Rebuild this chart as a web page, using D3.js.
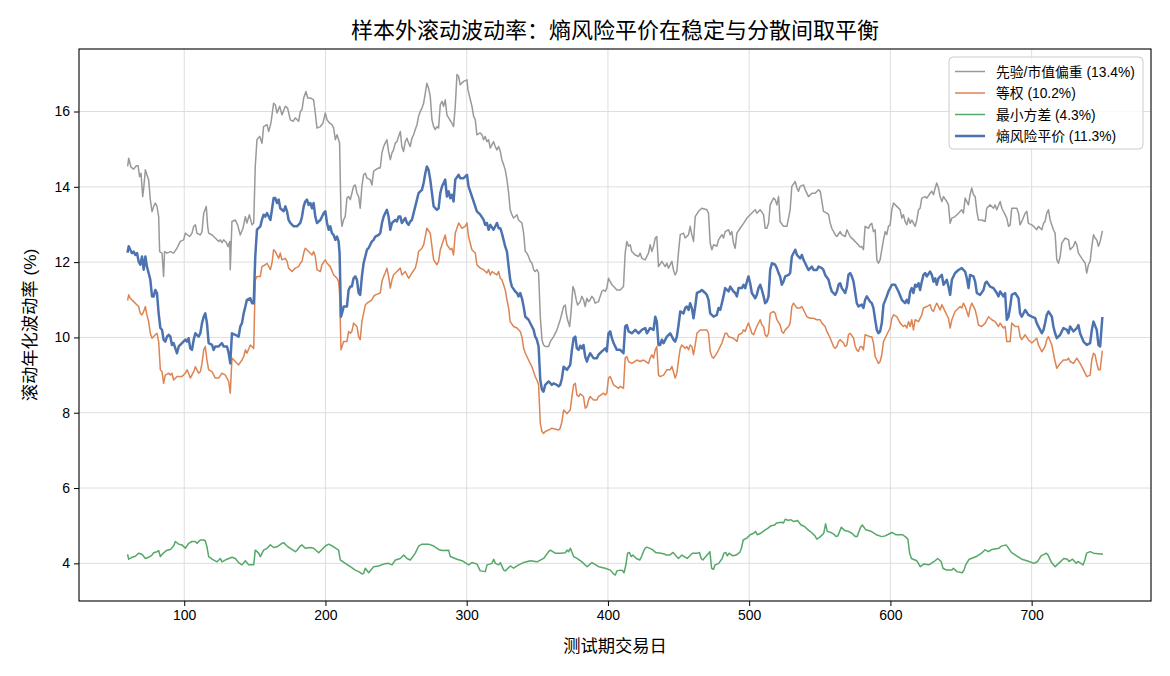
<!DOCTYPE html>
<html>
<head>
<meta charset="utf-8">
<script src="https://cdn.jsdelivr.net/npm/d3@7"></script>
<style>
  body { margin: 0; background: #fff; }
  text { font-family: "Liberation Sans", Arial, "Noto Sans CJK SC", sans-serif; fill: #000; }
</style>
</head>
<body>
<div class="chart"></div>
<script>
var totalWidth = 1170;
var totalHeight = 676;

var margin = {
  top: 49,
  left: 79,
  bottom: 75,
  right: 19
};

var width = totalWidth - margin.left - margin.right;
var height = totalHeight - margin.top - margin.bottom;

// DATA STUFF

var titleText = "样本外滚动波动率：熵风险平价在稳定与分散间取平衡";
var xLabel = "测试期交易日";
var yLabel = "滚动年化波动率 (%)";

var xTicks = [100, 200, 300, 400, 500, 600, 700];
var yTicks = [4, 6, 8, 10, 12, 14, 16];

var seriesNames = ["先验/市值偏重 (13.4%)", "等权 (10.2%)", "最小方差 (4.3%)", "熵风险平价 (11.3%)"];

// [trading day, rolling vol %]
var prior = [[60,14.56],[60.7,14.76],[62.3,14.52],[64.2,14.47],[66.1,14.56],[67.3,14.56],[68.4,14.27],[69.4,14.36],[70.6,13.74],[71.3,13.96],[72.5,14.45],[73.6,14.32],[74.8,14.19],[76,13.66],[77.2,13.34],[78.4,13.48],[79.5,13.57],[80.7,13.48],[81.9,13.21],[82.6,12.28],[84.3,12.24],[85.4,11.62],[86.1,12.28],[87.8,12.24],[90.2,12.28],[92.5,12.24],[94.9,12.37],[97.2,12.55],[99.6,12.59],[100.8,12.77],[102.4,12.72],[103.8,12.68],[105.5,12.77],[106.7,12.95],[107.9,12.99],[109,12.77],[111.4,12.72],[112.6,12.81],[113.8,13.3],[115.6,13.48],[116.6,12.95],[117.3,12.77],[119.7,12.72],[122,12.64],[124.4,12.55],[125.6,12.59],[126.7,12.52],[127.9,12.59],[129.8,12.52],[131,12.41],[132.2,12.55],[132.6,11.8],[133.8,13.08],[136.2,13.12],[137.8,12.99],[139.7,12.72],[141.6,12.9],[143.3,13.21],[144.4,13.04],[146.1,13.26],[148,12.99],[149.2,13.04],[150.3,14.54],[151.5,15.25],[153.4,15.34],[155.1,15.16],[156.2,15.6],[158.6,15.65],[159.8,15.47],[161.4,15.69],[163.3,16.22],[164.5,16.18],[165.7,15.96],[167.6,16.14],[169.2,15.91],[171.6,16.14],[173.2,16.09],[175.1,15.78],[177,15.74],[178.7,15.83],[181,15.74],[182.2,16],[183.4,16.05],[184.6,16.36],[186.2,16.53],[187.4,16.36],[189.3,16.36],[191.6,16.31],[192.8,15.96],[194,15.56],[196.4,15.6],[198.2,15.69],[199.9,15.96],[201.1,15.78],[203,15.69],[204.6,15.65],[205.8,15.56],[207,15.25],[208.2,15.38],[209.3,15.25],[210,15.16],[211,13.21],[211.7,12.95],[212.8,13.12],[214,13.21],[215.2,13.7],[216.4,13.74],[217.6,13.66],[218.7,13.83],[219.9,14.01],[221.1,14.05],[222.3,13.83],[223.5,13.74],[224.6,13.43],[225.8,14.01],[227,14.32],[228.2,14.36],[229.4,14.23],[231.7,14.19],[232.9,14.05],[234.1,14.41],[235.3,14.45],[237.6,14.5],[238.8,14.5],[240,14.9],[241.2,15.07],[242.3,15.16],[243.5,15.25],[244.7,14.94],[245.9,14.72],[247.1,14.9],[248.2,14.98],[249.4,15.16],[250.6,15.2],[251.8,15.34],[253,15.47],[254.1,15.07],[255.3,14.94],[256.5,15.2],[257.7,15.29],[258.9,15.16],[260,15.07],[261.2,15.29],[262.4,15.38],[263.6,15.52],[264.8,15.65],[265.9,15.87],[267.1,16],[268.3,16.09],[269.5,16.22],[270.7,16.49],[271.8,16.75],[273,16.62],[274.2,16.4],[275.4,15.78],[276.6,15.6],[277.7,15.52],[278.9,15.6],[280.1,15.56],[281.3,16.18],[282.5,16.27],[283.6,16.14],[284.8,16.31],[286,15.91],[287.2,15.83],[289.5,15.69],[290.7,15.6],[291.9,16.14],[293.1,16.98],[294.3,16.93],[295.4,16.71],[297.8,16.8],[300.2,16.84],[300.9,16.58],[302,16.4],[303.7,16.14],[304.9,15.87],[306.1,15.78],[307.2,15.38],[309.6,15.43],[310.8,15.38],[312,15.25],[313.1,15.34],[314.3,15.2],[315.5,15.25],[316.7,15.03],[317.9,15.12],[319,15.2],[320.2,15.07],[321.4,14.98],[322.6,15.07],[323.8,14.94],[324.9,14.72],[326.1,14.59],[327.3,14.45],[328.5,14.19],[329.7,13.83],[330.8,13.39],[332,13.26],[333.2,13.17],[334.4,13.21],[335.6,13.26],[336.7,13.12],[337.9,13.08],[339.1,13.04],[340.3,12.77],[341.5,12.28],[342.6,12.24],[343.8,12.15],[345,12.02],[346.2,11.97],[347.4,11.8],[348.5,11.75],[349.7,11.8],[350.9,11.71],[352.1,10.56],[353.3,9.94],[354.4,9.8],[355.6,9.76],[358,9.76],[359.2,9.89],[361.5,10.02],[363.9,10.2],[366.2,10.47],[367.4,10.64],[368.6,10.82],[369.8,10.86],[370.5,10.64],[371.4,10.47],[372.9,10.29],[373.8,10.64],[375.2,11.35],[376.2,11.26],[377.6,10.99],[378.5,10.86],[380.4,10.95],[381.5,11.09],[382.7,11],[383.9,10.82],[385.1,11.04],[386.3,10.95],[387.4,11],[388.6,11.09],[389.8,11.04],[391,10.91],[393.3,10.95],[394.5,11.09],[395.7,11.22],[396.9,11.26],[398.1,11.22],[399.2,11.31],[400.4,11.57],[401.6,11.48],[402.8,11.4],[405.1,11.31],[406.3,11.26],[408.7,11.26],[411,11.35],[412.2,12.24],[413.4,12.55],[414.6,12.42],[415.8,12.46],[416.9,12.28],[419.3,12.19],[421.7,12.15],[422.8,12.24],[424,12.1],[426.4,12.06],[428.7,12.24],[429.9,12.46],[431.1,12.28],[432.3,12.42],[433.5,12.64],[434.6,12.68],[435.8,11.88],[438.2,12.02],[440.5,11.88],[441.7,11.97],[442.9,11.84],[445.3,12.02],[446.4,11.79],[447.6,11.66],[448.8,11.75],[450,12.28],[451.2,12.73],[453.5,12.77],[454.7,12.64],[457.1,12.73],[458.2,12.95],[459.4,12.73],[460.6,12.55],[461.8,13.21],[464.1,13.35],[466.5,13.43],[470,13.39],[471.2,13.3],[472.4,12.5],[473.6,12.33],[474.8,12.46],[477.1,12.42],[478.3,12.59],[480.7,12.73],[481.8,12.64],[483,12.81],[485.4,12.86],[486.6,12.73],[487.7,12.81],[488.9,12.5],[490.1,12.37],[491.3,12.77],[493.6,12.9],[496,13.03],[498.4,13.17],[500.7,13.26],[503.1,13.35],[504.3,13.39],[505.4,13.3],[507.8,13.39],[510.2,13.26],[511.3,12.9],[512.5,12.9],[513.7,13.03],[514.9,13.52],[517.2,13.7],[518.4,13.66],[519.6,13.52],[520.8,13.74],[521.9,13.08],[524.3,12.95],[526.7,12.95],[527.9,13.17],[529,13.39],[530.2,14.01],[532.6,14.14],[533.8,13.97],[534.9,13.88],[536.1,14.01],[538.5,14.05],[539.7,13.92],[542,13.74],[544.4,13.83],[546.7,13.83],[549.1,13.92],[550.3,13.88],[551.5,13.61],[552.6,13.35],[555,13.3],[556.2,13.26],[557.4,13.03],[558.5,12.9],[560.9,12.73],[562.1,12.68],[564.4,12.81],[565.6,12.73],[568,12.68],[569.2,12.86],[571.5,12.68],[573.9,12.59],[576.2,12.5],[578.6,12.4],[579.7,12.42],[580.9,12.33],[582.1,12.95],[584.5,12.9],[585.6,12.99],[586.8,13.03],[588,12.81],[589.2,12.86],[590.4,12.06],[591.5,11.97],[592.7,12.06],[593.9,12.33],[595.1,12.59],[596.3,12.81],[597.4,12.73],[598.6,12.95],[599.8,12.99],[601,13.39],[602.2,13.57],[604.5,13.48],[606.9,13.39],[608.1,13.17],[609.2,13.26],[610.4,13.08],[611.6,12.99],[612.8,13.17],[614,13.03],[615.1,13.12],[617.5,12.95],[618.7,13.12],[619.9,13.39],[621,13.43],[622.2,13.7],[624.6,13.74],[625.8,13.7],[628.1,13.83],[629.3,13.88],[630.5,13.79],[631.7,13.97],[632.8,14.1],[634,13.97],[635.2,13.74],[636.4,13.61],[637.6,13.74],[639.9,13.61],[641.1,13.52],[642.3,13.03],[643.5,13.17],[645.8,13.21],[648.2,13.3],[650.5,13.39],[651.7,13.3],[652.9,13.7],[655.3,13.52],[656.4,13.79],[657.6,13.97],[658.8,13.79],[660,13.74],[661.2,13.35],[662.3,13.12],[664.7,13.12],[667.1,13.08],[668.2,13.43],[670.6,13.52],[673,13.43],[674.1,13.52],[675.3,13.39],[677.7,13.61],[678.9,13.43],[681.2,13.26],[682.4,13.17],[683.6,12.95],[684.8,12.99],[685.9,13.43],[689.5,13.43],[690.7,13.3],[691.8,12.99],[693,13.08],[695.4,13.3],[696.6,13.35],[697.7,13.03],[700.1,12.99],[701.3,12.95],[703.6,12.86],[704.8,12.95],[707.2,12.86],[708.4,13.03],[709.5,13.08],[710.7,13.3],[711.9,13.39],[713.1,13.12],[715.4,12.86],[716.6,12.77],[717.8,12.06],[719,11.97],[720.2,12.15],[721.3,12.5],[723.7,12.64],[726.1,12.59],[727.2,12.33],[729.6,12.42],[730.8,12.55],[732,12.46],[733.1,12.24],[735.5,12.1],[737.9,11.97],[739,11.71],[740.2,11.93],[741.4,12.02],[742.6,12.42],[743.8,12.73],[744.9,12.64],[746.1,12.59],[747.3,12.42],[748.5,12.55],[750,12.81]];

var equal = [[60,11],[60.7,11.13],[61.8,11.04],[64.2,10.95],[66.6,10.86],[67.7,10.82],[68.9,10.64],[70.1,10.6],[71.3,10.69],[72.5,10.82],[73.6,10.6],[74.8,10.42],[76,10.11],[77.2,9.98],[79.5,10.07],[80.7,10.11],[81.9,9.89],[83.1,9.14],[84.3,9.09],[85.4,8.78],[86.6,9],[89,9.05],[90.2,9],[91.3,9.05],[92.5,8.87],[94.9,8.96],[98.4,8.96],[100.8,9.05],[102,9.14],[103.1,9.05],[104.3,8.92],[106.7,9.09],[107.9,9.22],[110.2,9.05],[111.4,9.09],[112.6,9.31],[113.8,9.67],[114.9,9.76],[116.1,9.4],[117.3,9.14],[119.7,9.09],[122,8.92],[124.4,8.92],[126.7,9.05],[129.1,9],[131.5,8.83],[132.6,8.52],[133.8,9.45],[136.2,9.36],[138.5,9.27],[140.9,9.4],[142.1,9.49],[143.3,9.67],[144.4,9.58],[146.8,9.8],[149.2,9.71],[150.3,11.53],[151.5,11.62],[153.9,11.62],[155,11.88],[157.4,11.93],[158.6,11.97],[161,11.8],[162.1,11.97],[163.3,12.33],[164.5,12.28],[166.9,12.1],[168,12.24],[169.2,12.06],[171.6,12.1],[172.8,12.02],[173.9,11.84],[176.3,11.75],[178.6,11.84],[181,11.88],[182.2,11.97],[183.4,12.02],[184.6,12.24],[185.7,12.37],[188.1,12.28],[190.5,12.19],[191.6,12.28],[192.8,12.15],[194,11.8],[196.4,11.75],[197.5,11.93],[199.9,12.06],[201.1,11.97],[203.4,11.88],[205.8,11.66],[208.2,11.57],[209.3,11.49],[210,11.18],[211,9.67],[211.7,9.76],[212.9,9.89],[215.2,9.89],[216.4,10.16],[217.6,10.11],[218.7,10.16],[219.9,10.38],[222.3,10.29],[223.5,10.02],[224.6,9.94],[225.8,10.42],[227,10.64],[228.2,10.86],[229.4,10.91],[232.9,11],[234.1,11.09],[235.3,11.13],[238.8,11.18],[240,11.49],[241.2,11.62],[242.3,11.71],[243.5,11.84],[244.7,11.62],[245.9,11.31],[247.1,11.53],[248.2,11.66],[250.6,11.75],[253,11.84],[254.1,11.66],[256.5,11.75],[258.9,11.57],[261.2,11.71],[263.6,11.84],[264.8,12.02],[265.9,12.28],[268.3,12.37],[269.5,12.46],[270.7,12.68],[271.8,12.9],[274.2,12.77],[275.4,12.41],[276.6,12.06],[278.9,11.93],[280.1,12.02],[281.3,12.33],[283.6,12.59],[284.8,12.72],[286,12.46],[288.4,12.33],[289.5,12.37],[290.7,12.19],[291.9,12.77],[294.3,13.04],[296.6,12.9],[299,12.95],[300.2,13.04],[301.3,12.68],[303.7,12.33],[306.1,12.24],[307.2,11.93],[309.6,11.84],[312,11.8],[314.3,11.71],[315.5,11.8],[316.7,11.66],[317.9,11.75],[321.4,11.66],[322.6,11.75],[323.8,11.57],[324.9,11.53],[326.1,11.4],[327.3,11.26],[328.5,11],[329.7,10.78],[330.8,10.42],[333.2,10.29],[335.6,10.25],[337.9,10.16],[339.1,10.02],[340.3,9.71],[341.5,9.58],[343.8,9.4],[346.2,9.22],[347.4,9.09],[348.5,8.96],[349.7,8.87],[350.9,8.74],[352.1,7.72],[353.3,7.5],[354.4,7.45],[355.6,7.5],[358,7.54],[360.3,7.59],[365.1,7.54],[366.2,7.59],[367.4,7.76],[368.6,8.07],[371,7.98],[373.3,8.07],[374.5,8.43],[375.7,8.74],[376.9,8.78],[378,8.47],[379.2,8.43],[380.4,8.5],[382.7,8.43],[383.9,8.12],[385.1,8.16],[386.3,8.34],[387.4,8.43],[389.8,8.34],[392.2,8.34],[393.3,8.43],[396.9,8.52],[398.1,8.47],[399.2,8.52],[400.4,8.92],[401.6,8.96],[404,8.74],[407.5,8.65],[408.7,8.7],[411,8.65],[412.2,9.45],[413.4,9.49],[414.6,9.36],[416.9,9.31],[420.5,9.4],[422.8,9.36],[425.2,9.4],[428.7,9.31],[429.9,9.45],[431.1,9.54],[432.3,9.45],[433.5,9.67],[434.6,9.76],[435.8,9],[437,8.96],[439.4,9],[441.7,9.14],[444.1,9.14],[445.3,9.23],[446.4,9.09],[447.6,8.92],[448.8,9.05],[450,9.4],[451.2,9.71],[452.3,9.8],[454.7,9.71],[455.9,9.76],[457.1,9.67],[458.2,9.8],[459.4,9.76],[460.6,9.54],[461.8,9.8],[463,10.11],[465.3,10.2],[467.7,10.2],[470,10.2],[471.2,10.11],[472.4,9.63],[473.6,9.49],[474.8,9.45],[477.1,9.58],[479.5,9.76],[480.7,9.85],[481.8,9.98],[483,10.11],[484.2,10.11],[485.4,10.02],[488.9,9.98],[491.3,9.89],[492.5,10.07],[494.8,10.11],[496,10.2],[497.2,10.16],[498.4,10.29],[499.5,10.38],[500.7,10.25],[501.9,10.11],[503.1,10.07],[505.4,10.29],[507.8,10.47],[509,10.33],[510.2,10.29],[511.3,10.07],[512.5,10.02],[513.7,10.11],[514.9,10.64],[517.2,10.69],[518.4,10.64],[519.6,10.47],[521.9,10.33],[523.1,10.16],[524.3,10.11],[525.5,10.2],[527.9,10.29],[529,10.38],[530.2,10.82],[531.4,10.91],[533.8,10.78],[536.1,10.78],[537.3,10.82],[538.5,10.73],[540.8,10.55],[543.2,10.51],[545.6,10.51],[547.9,10.47],[550.3,10.47],[551.5,10.38],[553.8,10.29],[555,10.16],[557.4,9.98],[559.7,9.76],[560.9,9.71],[562.1,9.76],[563.3,9.89],[564.4,9.94],[566.8,9.85],[568,9.76],[569.2,9.8],[570.3,10.07],[571.5,10.11],[573.9,9.98],[575.1,9.76],[576.2,9.67],[577.4,9.63],[578.6,9.75],[579.7,9.76],[580.9,9.67],[582.1,10.07],[585.6,10.02],[586.8,10.02],[588,9.85],[589.2,9.49],[590.4,9.4],[591.5,9.31],[592.7,9.36],[593.9,9.54],[595.1,9.89],[597.4,10.07],[599.8,10.25],[601,10.51],[602.2,10.6],[604.5,10.55],[606.9,10.38],[609.2,10.29],[610.4,10.33],[611.6,10.25],[612.8,10.42],[614,10.29],[615.1,10.47],[616.3,10.2],[617.5,10.47],[619.9,10.42],[622.2,10.6],[623.4,10.78],[625.8,10.82],[628.1,10.87],[629.3,10.73],[630.5,10.69],[631.7,10.82],[632.8,10.91],[635.2,10.73],[636.4,10.87],[638.7,10.69],[641.1,10.51],[642.3,10.25],[643.5,10.47],[645.8,10.69],[649.4,10.82],[650.5,10.78],[651.7,10.91],[652.9,10.82],[654.1,10.69],[655.3,10.55],[656.4,10.78],[657.6,10.91],[660,10.73],[661.2,10.55],[662.3,10.33],[664.7,10.29],[667.1,10.38],[669.4,10.55],[671.8,10.47],[674.1,10.42],[676.5,10.29],[677.7,10.38],[680,10.25],[681.2,10.29],[682.4,9.89],[684.8,9.89],[685.9,10.38],[688.3,10.29],[690.7,10.29],[691.8,10.02],[693,9.94],[695.4,10.07],[697.7,9.94],[700.1,9.85],[703.6,9.98],[704.8,9.8],[707.2,9.62],[709.5,9.76],[710.7,9.94],[711.9,10.02],[714.3,9.8],[715.4,9.58],[716.6,9.36],[717.8,9.18],[720.2,9.31],[722.5,9.4],[724.9,9.4],[726.1,9.45],[727.2,9.36],[729.6,9.31],[732,9.45],[734.3,9.31],[736.7,9.14],[739,8.96],[741.4,9],[742.6,9.4],[743.8,9.58],[744.9,9.54],[746.1,9.31],[747.3,9.14],[748.5,9.14],[750,9.63]];

var minVar = [[60,4.22],[60.7,4.11],[63,4.16],[65.4,4.19],[67.7,4.27],[70.1,4.24],[72.5,4.13],[74.8,4.16],[77.2,4.22],[78.4,4.28],[80.7,4.31],[81.9,4.34],[83.1,4.18],[85.4,4.28],[87.8,4.35],[90.2,4.37],[92.5,4.46],[93.7,4.58],[96.1,4.51],[98.4,4.49],[100.8,4.4],[103.1,4.53],[105.5,4.58],[107.9,4.58],[109,4.53],[111.4,4.62],[113.8,4.62],[114.9,4.6],[116.1,4.44],[117.3,4.18],[119.7,4.11],[123.2,4.04],[125.6,4.13],[126.7,4.04],[130.3,4.11],[133.8,4.16],[136.2,4.13],[138.5,4.02],[140.9,3.96],[143.3,4.07],[145.6,3.96],[149.2,3.96],[150.3,4.35],[152.7,4.27],[153.9,4.18],[156.2,4.35],[158.6,4.4],[161,4.49],[163.3,4.42],[165.7,4.44],[169.2,4.53],[170.4,4.55],[172.8,4.46],[175.1,4.4],[178.7,4.31],[179.8,4.35],[182.2,4.46],[183.4,4.49],[185.7,4.4],[189.3,4.42],[191.6,4.4],[195.2,4.28],[197.5,4.37],[199.9,4.46],[202.3,4.51],[205.8,4.44],[209.3,4.35],[210.5,4.09],[214,4],[217.6,3.91],[221.1,3.82],[223.5,3.78],[225.9,3.72],[227,3.73],[228.2,3.87],[230.6,3.75],[234.1,3.91],[237.7,3.93],[241.2,3.98],[244.7,4],[247.1,3.96],[249.5,4.09],[253,4.13],[255.4,4.22],[257.7,4.13],[260.1,4.09],[263.6,4.27],[266,4.46],[268.3,4.51],[273.1,4.51],[276.6,4.46],[280.1,4.37],[282.5,4.34],[287.2,4.35],[288.4,4.18],[293.1,4.11],[296.7,4.07],[301.4,3.96],[303.7,4.02],[307.3,3.98],[309.6,3.8],[313.2,3.78],[314.4,3.96],[317.9,4],[319.1,4.11],[320.3,4],[322.6,3.96],[323.8,4.02],[326.2,3.82],[327.3,3.8],[330.9,3.93],[333.2,3.87],[336.8,3.96],[340.3,4.02],[345,4.07],[349.8,4.04],[354.5,4.13],[358,4.31],[359.2,4.35],[362.7,4.27],[366.3,4.27],[369.8,4.28],[371,4.35],[372.2,4.31],[373.4,4.4],[375.7,4.18],[378.1,4.13],[381.6,4.04],[385.2,3.91],[388.7,4.02],[393.4,3.91],[398.1,3.87],[401.7,3.82],[404,3.72],[405.2,3.69],[406.4,3.8],[408.9,3.82],[410.2,3.81],[411.4,3.75],[412.7,3.96],[413.9,4.27],[415.1,4.29],[416.4,4.18],[417.6,4.22],[420.1,4.13],[422.6,4.09],[423.8,4.18],[425.1,4.31],[426.3,4.4],[427.5,4.43],[431.3,4.37],[433.7,4.29],[437.5,4.27],[439.9,4.25],[441.2,4.22],[443.7,4.22],[446.1,4.29],[448.6,4.18],[449.9,4.13],[452.4,4.22],[456.1,4.13],[459.8,4.27],[463.5,4.27],[464.8,4.29],[466,4.13],[467.2,4.09],[469.7,4.2],[472.2,4.31],[473.4,3.87],[474.7,3.84],[475.9,3.96],[478.4,4],[480.9,4.13],[482.1,4.27],[483.4,4.29],[484.6,4.2],[485.8,4.27],[488.3,4.2],[490.8,4.22],[493.3,4.29],[494.5,4.4],[495.8,4.62],[498.3,4.67],[500.7,4.76],[503.2,4.8],[504.5,4.85],[505.7,4.76],[508.2,4.8],[510.7,4.87],[513.1,4.93],[515.6,5],[518.1,5.02],[519.3,5.07],[523.1,5.09],[524.3,5.07],[525.5,5.17],[528,5.14],[529.3,5.16],[531.7,5.11],[534.2,5.14],[536.7,5.02],[539.2,4.98],[541.7,4.89],[544.1,4.82],[546.6,4.73],[547.9,4.64],[550.4,4.71],[552.8,4.8],[554.1,5.05],[555.3,4.85],[557.8,4.82],[560.3,4.76],[561.5,4.71],[562.8,4.73],[565.2,4.96],[567.7,4.87],[570.2,4.85],[572.7,4.8],[575.2,4.71],[576.4,4.71],[578.9,4.96],[580.1,5.02],[582.6,4.89],[586.3,4.85],[590.1,4.76],[593.8,4.71],[596.3,4.73],[600,4.8],[601.2,4.82],[603.7,4.76],[608.7,4.76],[611.1,4.69],[612.4,4.64],[613.6,4.27],[614.9,4.13],[618.6,4.07],[621.1,3.91],[623.5,3.98],[627.3,3.96],[631,4.05],[633.5,4.13],[635.9,4.05],[637.2,3.87],[639.7,3.82],[643.4,3.82],[644.6,3.87],[647.1,3.78],[650.8,3.75],[652.1,3.82],[653.3,3.96],[655.8,4.11],[660.8,4.18],[664.5,4.27],[667,4.36],[669.4,4.31],[671.9,4.37],[676.9,4.4],[678.1,4.45],[681.9,4.49],[683.1,4.43],[685.6,4.29],[689.3,4.2],[693,4.11],[696.7,4.07],[701.7,4],[704.2,4.05],[706.7,4.2],[710.4,4.27],[711.6,4.22],[714.1,4.02],[716.6,3.91],[719.1,4],[722.8,4.13],[725.3,4.11],[726.5,4.05],[729,4.11],[731.5,4],[732.7,4.05],[736.4,3.96],[737.7,4.09],[738.9,4.27],[741.4,4.31],[743.9,4.27],[748.8,4.25],[750,4.25]];

var entropyRp = [[60,12.28],[60.7,12.42],[61.8,12.33],[63,12.24],[64.2,12.28],[65.4,12.19],[66.6,12.24],[67.7,12.02],[68.9,11.93],[70.1,12.15],[71.3,11.8],[72.5,12.15],[73.6,11.88],[74.8,11.71],[76,11.53],[77.2,11.09],[78.4,11.09],[79.5,11.26],[80.7,11.18],[81.9,10.64],[83.1,10.25],[84.3,10.2],[85.4,9.94],[86.6,9.89],[87.8,10.02],[89,10.07],[90.2,10.02],[91.3,9.8],[92.5,9.85],[93.7,9.71],[94.9,9.58],[96.1,9.76],[98.4,9.85],[100.8,9.94],[102,9.89],[103.1,9.98],[104.3,9.71],[105.5,9.67],[106.7,9.94],[107.9,10.11],[110.2,10.02],[111.4,10.11],[112.6,10.38],[113.8,10.55],[114.9,10.64],[116.1,10.38],[117.3,9.85],[119.7,9.8],[120.8,9.67],[122,9.76],[124.4,9.76],[126.7,9.85],[127.9,9.76],[130.3,9.76],[131.5,9.58],[132.6,9.31],[133.8,10.11],[136.2,10.07],[138.5,10.02],[139.7,10.29],[140.9,10.38],[142.1,10.64],[143.3,10.82],[144.4,11],[146.8,11.04],[148,10.91],[149.2,10.91],[150.3,12.15],[151.5,12.86],[153.9,12.95],[155,13.12],[156.2,13.26],[157.4,13.21],[158.6,13.3],[159.8,13.21],[161,13.12],[162.1,13.39],[163.3,13.7],[164.5,13.7],[165.7,13.57],[166.9,13.66],[168,13.43],[170.4,13.35],[171.6,13.48],[172.8,13.35],[173.9,13.12],[175.1,13.04],[177.5,12.95],[179.8,12.95],[182.2,13.04],[183.4,13.21],[184.6,13.48],[185.7,13.61],[186.9,13.66],[188.1,13.52],[189.3,13.57],[190.5,13.43],[191.6,13.57],[192.8,13.21],[194,13.04],[196.4,13.12],[198.7,13.3],[199.9,13.35],[201.1,13.04],[202.3,12.86],[203.4,12.95],[204.6,12.77],[205.8,12.72],[207,12.59],[208.2,12.68],[209.3,12.55],[210,12.24],[211,10.55],[211.7,10.64],[212.9,10.82],[215.2,10.82],[216.4,11.26],[217.6,11.35],[218.7,11.35],[219.9,11.57],[221.1,11.62],[222.3,11.53],[223.5,11.18],[224.6,11.13],[225.8,11.62],[227,11.97],[228.2,12.15],[229.4,12.33],[230.5,12.37],[231.7,12.46],[232.9,12.55],[234.1,12.59],[235.3,12.68],[237.6,12.72],[238.8,12.77],[240,13.04],[241.2,13.21],[242.3,13.3],[243.5,13.39],[244.7,13.21],[245.9,12.86],[247.1,13.04],[249.4,13.12],[250.6,13.08],[251.8,13.21],[253,13.21],[254.1,13.04],[256.5,13.17],[257.7,13.04],[258.9,12.99],[260,13.08],[261.2,13.12],[262.4,13.3],[263.6,13.48],[264.8,13.66],[265.9,13.83],[268.3,13.92],[269.5,14.1],[270.7,14.36],[271.8,14.54],[273,14.45],[274.2,14.19],[275.4,13.83],[276.6,13.48],[278.9,13.39],[280.1,13.43],[281.3,13.83],[282.5,14.01],[284.8,14.19],[286,13.74],[287.2,13.88],[288.4,13.7],[289.5,13.79],[290.7,13.61],[291.9,14.19],[294.3,14.32],[295.4,14.23],[297.8,14.23],[300.2,14.32],[301.3,14.01],[302.5,13.88],[304.9,13.61],[307.2,13.35],[309.6,13.26],[312,13.12],[313.1,12.99],[314.3,13.04],[315.5,12.86],[316.7,12.99],[319,12.86],[321.4,13.04],[322.6,12.9],[323.8,12.9],[324.9,12.77],[326.1,12.59],[327.3,12.41],[328.5,12.28],[329.7,11.88],[330.8,11.53],[332,11.35],[334.4,11.22],[335.6,11.18],[336.7,11.09],[337.9,11.18],[339.1,11.04],[340.3,10.82],[341.5,10.55],[343.8,10.47],[346.2,10.29],[347.4,10.2],[348.5,10.02],[349.7,9.94],[350.9,9.76],[352.1,8.87],[353.3,8.61],[354.4,8.56],[355.6,8.74],[358,8.83],[360.3,8.74],[361.5,8.78],[363.9,8.74],[365.1,8.7],[366.2,8.74],[367.4,8.91],[368.6,9.22],[371,9.14],[373.3,9.27],[374.5,9.67],[375.7,9.98],[376.9,10.02],[378,9.71],[379.2,9.67],[380.4,9.78],[381.5,9.71],[382.7,9.8],[383.9,9.49],[385.1,9.36],[386.3,9.49],[387.4,9.58],[389.8,9.45],[392.2,9.45],[393.3,9.54],[395.7,9.63],[398.1,9.71],[399.2,9.63],[400.4,10.11],[401.6,10.16],[402.8,9.98],[404,9.85],[406.3,9.67],[408.7,9.67],[411,9.58],[412.2,10.29],[413.4,10.33],[414.6,10.16],[416.9,10.11],[419.3,10.2],[421.7,10.11],[424,10.2],[426.4,10.25],[427.6,10.11],[429.9,10.25],[432.3,10.2],[433.5,10.55],[434.6,10.42],[435.8,9.8],[437,9.8],[438.2,9.94],[439.4,9.85],[441.7,10.02],[444.1,10.11],[446.4,9.94],[447.6,9.89],[448.8,10.02],[450,10.33],[451.2,10.69],[453.5,10.64],[454.7,10.78],[455.9,10.82],[457.1,10.73],[458.2,10.91],[459.4,10.78],[460.6,10.51],[461.8,10.82],[463,11.18],[465.3,11.22],[466.5,11.26],[468.9,11.18],[470,11.13],[471.2,11],[472.4,10.64],[474.8,10.55],[477.1,10.6],[478.3,10.78],[479.5,10.73],[480.7,10.91],[481.8,11.09],[483,11.31],[485.4,11.22],[486.6,11.35],[488.9,11.22],[490.1,11.18],[491.3,11.09],[492.5,11.31],[494.8,11.31],[496,11.4],[497.2,11.31],[498.4,11.48],[499.5,11.62],[500.7,11.44],[501.9,11.18],[504.3,11.04],[505.4,11.13],[506.6,11.31],[507.8,11.4],[509,11.26],[510.2,11.09],[511.3,10.91],[512.5,10.95],[513.7,11.09],[514.9,11.8],[516.1,11.97],[518.4,11.93],[519.6,11.84],[520.8,11.71],[521.9,11.62],[523.1,11.4],[524.3,11.48],[525.5,11.62],[527.9,11.66],[529,11.71],[530.2,12.15],[532.6,12.33],[533.8,12.19],[536.1,12.1],[537.3,12.19],[538.5,12.06],[539.7,11.97],[540.8,11.88],[542,11.79],[544.4,11.88],[545.6,11.79],[547.9,11.79],[549.1,11.88],[551.5,11.84],[552.6,11.79],[553.8,11.66],[556.2,11.53],[557.4,11.35],[558.5,11.22],[560.9,11.13],[562.1,11.22],[563.3,11.4],[564.4,11.44],[565.6,11.31],[568,11.18],[569.2,11.35],[570.3,11.66],[571.5,11.71],[572.7,11.62],[573.9,11.48],[575.1,11.18],[576.2,10.91],[577.4,10.82],[578.6,10.85],[579.7,10.87],[580.9,10.78],[582.1,11],[583.3,11.09],[585.6,10.95],[586.8,10.91],[588,10.78],[589.2,10.47],[590.4,10.2],[591.5,10.11],[592.7,10.16],[593.9,10.38],[595.1,10.87],[597.4,11.09],[598.6,11.22],[599.8,11.31],[601,11.4],[603.3,11.4],[605.7,11.22],[608.1,11],[610.4,10.91],[611.6,11],[612.8,10.91],[614,11.22],[615.1,11.31],[616.3,11.18],[617.5,11.4],[618.7,11.35],[619.9,11.44],[621,11.26],[622.2,11.48],[623.4,11.66],[624.6,11.71],[625.8,11.62],[628.1,11.75],[629.3,11.66],[630.5,11.48],[631.7,11.57],[632.8,11.4],[634,11.57],[636.4,11.66],[637.6,11.4],[639.9,11.53],[641.1,11.35],[642.3,11.13],[643.5,11.53],[645.8,11.71],[648.2,11.79],[650.5,11.84],[652.9,11.75],[654.1,11.57],[655.3,11.31],[656.4,11.66],[658.8,11.62],[660,11.48],[661.2,11.18],[663.5,11.13],[665.9,11.26],[667.1,11.44],[668.2,11.48],[670.6,11.35],[673,11.31],[675.3,11.18],[676.5,11.09],[677.7,11.22],[680,11.09],[681.2,11.18],[682.4,10.47],[683.6,10.55],[684.8,10.82],[685.9,11.13],[688.3,11.18],[690.7,11.04],[691.8,10.64],[693,10.55],[695.4,10.73],[697.7,10.6],[700.1,10.55],[702.5,10.51],[703.6,10.38],[706,10.2],[707.2,10.11],[708.4,10.2],[709.5,10.38],[710.7,10.6],[711.9,10.69],[714.3,10.55],[715.4,10.29],[716.6,10.11],[717.8,9.98],[720.2,10.07],[722.5,10.25],[724.9,10.2],[726.1,10.11],[727.2,10.29],[729.6,10.16],[732,10.25],[733.1,10.33],[734.3,10.11],[736.7,9.89],[739,9.8],[741.4,9.85],[742.6,10.2],[743.8,10.42],[746.1,10.2],[747.3,9.8],[748.5,9.76],[750,10.51]];

var seriesData = [prior, equal, minVar, entropyRp];
var colors = ["#999999", "#dd8452", "#55a868", "#4c72b0"];
var lineWidths = [1.5, 1.5, 1.5, 2.5];

// SCALES
var xScale = d3.scaleLinear().domain([25.5, 784.5]).range([0, width]);
var yScale = d3.scaleLinear().domain([3.0, 17.66]).range([height, 0]);

// SVG GROUP HIERARCHY
var svg = d3
  .select(".chart")
  .append("svg")
  .attr("width", totalWidth)
  .attr("height", totalHeight)
  .style("display", "block");

svg.append("rect").attr("width", totalWidth).attr("height", totalHeight).attr("fill", "#fff");

var mainGroup = svg
  .append("g")
  .attr("transform", "translate(" + margin.left + "," + margin.top + ")");

// grid
mainGroup
  .append("g")
  .attr("class", "grid")
  .selectAll("line.gx")
  .data(xTicks)
  .enter()
  .append("line")
  .attr("x1", function(d) { return xScale(d); })
  .attr("x2", function(d) { return xScale(d); })
  .attr("y1", 0)
  .attr("y2", height)
  .attr("stroke", "#dedede")
  .attr("stroke-width", 1);

mainGroup
  .select(".grid")
  .selectAll("line.gy")
  .data(yTicks)
  .enter()
  .append("line")
  .attr("x1", 0)
  .attr("x2", width)
  .attr("y1", function(d) { return yScale(d); })
  .attr("y2", function(d) { return yScale(d); })
  .attr("stroke", "#dedede")
  .attr("stroke-width", 1);

// lines
var line = d3
  .line()
  .x(function(d) { return xScale(d[0]); })
  .y(function(d) { return yScale(d[1]); });

mainGroup
  .append("g")
  .selectAll("path")
  .data(seriesData)
  .enter()
  .append("path")
  .attr("d", line)
  .attr("fill", "none")
  .attr("stroke", function(d, i) { return colors[i]; })
  .attr("stroke-width", function(d, i) { return lineWidths[i]; })
  .attr("stroke-linejoin", "round")
  .attr("stroke-linecap", "square");

// axes
var xAxis = d3.axisBottom(xScale).tickValues(xTicks).tickSize(5).tickPadding(4);
var yAxis = d3.axisLeft(yScale).tickValues(yTicks).tickSize(5).tickPadding(4);

mainGroup
  .append("g")
  .attr("transform", "translate(0," + height + ")")
  .call(xAxis)
  .call(function(g) {
    g.select(".domain").remove();
    g.selectAll(".tick line").attr("stroke", "#000").attr("stroke-width", 1);
    g.selectAll(".tick text").attr("font-size", 14).attr("fill", "#000");
  });

mainGroup
  .append("g")
  .call(yAxis)
  .call(function(g) {
    g.select(".domain").remove();
    g.selectAll(".tick line").attr("stroke", "#000").attr("stroke-width", 1);
    g.selectAll(".tick text").attr("font-size", 14).attr("fill", "#000");
  });

// frame
mainGroup
  .append("rect")
  .attr("x", 0)
  .attr("y", 0)
  .attr("width", width)
  .attr("height", height)
  .attr("fill", "none")
  .attr("stroke", "#000")
  .attr("stroke-width", 1.1);

// title and labels
svg
  .append("text")
  .attr("x", margin.left + width / 2)
  .attr("y", 38)
  .attr("text-anchor", "middle")
  .attr("font-size", 22)
  .text(titleText);

svg
  .append("text")
  .attr("x", margin.left + width / 2)
  .attr("y", 652)
  .attr("text-anchor", "middle")
  .attr("font-size", 17.3)
  .text(xLabel);

svg
  .append("text")
  .attr("transform", "translate(36," + (margin.top + height / 2) + ") rotate(-90)")
  .attr("text-anchor", "middle")
  .attr("font-size", 17.3)
  .text(yLabel);

// legend
var legend = svg.append("g").attr("transform", "translate(949,57)");

legend
  .append("rect")
  .attr("width", 194)
  .attr("height", 92)
  .attr("rx", 4)
  .attr("fill", "#fff")
  .attr("fill-opacity", 0.8)
  .attr("stroke", "#cccccc");

var legendItem = legend
  .selectAll("g.item")
  .data(seriesNames)
  .enter()
  .append("g")
  .attr("transform", function(d, i) { return "translate(0," + (14.5 + i * 21.5) + ")"; });

legendItem
  .append("line")
  .attr("x1", 6)
  .attr("x2", 36)
  .attr("stroke", function(d, i) { return colors[i]; })
  .attr("stroke-width", function(d, i) { return lineWidths[i]; });

legendItem
  .append("text")
  .attr("x", 47)
  .attr("y", 5)
  .attr("font-size", 13.8)
  .text(function(d) { return d; });
</script>
</body>
</html>
